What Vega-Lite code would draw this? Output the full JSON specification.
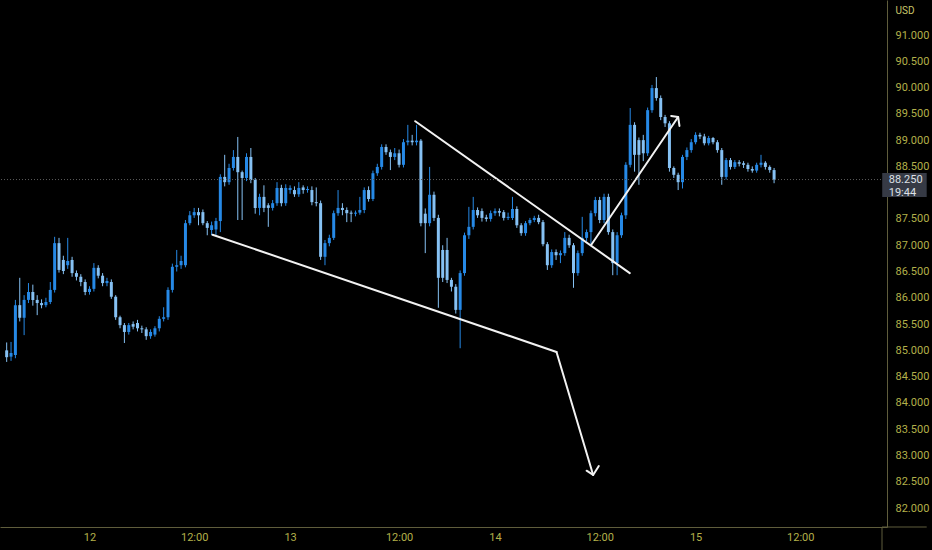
{
  "$schema": "https://vega.github.io/schema/vega-lite/v6.json",
  "description": "30 minute candles with hand drawn trend lines",
  "width": 887,
  "height": 527,
  "autosize": "none",
  "padding": {"left": 0, "top": 0, "right": 45, "bottom": 23},
  "background": "#000000",
  "config": {"view": {"stroke": null}},
  "datasets": {
    "candles": [
      {"i":0,"o":85.00,"h":85.15,"l":84.78,"c":84.87},
      {"i":1,"o":84.88,"h":85.16,"l":84.80,"c":84.95},
      {"i":2,"o":84.91,"h":85.96,"l":84.85,"c":85.86},
      {"i":3,"o":85.86,"h":86.38,"l":85.55,"c":85.62},
      {"i":4,"o":85.62,"h":86.05,"l":85.29,"c":85.96},
      {"i":5,"o":85.96,"h":86.28,"l":85.90,"c":86.11},
      {"i":6,"o":86.11,"h":86.25,"l":85.85,"c":85.96},
      {"i":7,"o":85.96,"h":86.05,"l":85.67,"c":85.90},
      {"i":8,"o":85.90,"h":85.97,"l":85.80,"c":85.86},
      {"i":9,"o":85.86,"h":86.00,"l":85.82,"c":85.92},
      {"i":10,"o":85.92,"h":86.30,"l":85.88,"c":86.15},
      {"i":11,"o":86.15,"h":87.16,"l":86.10,"c":87.04},
      {"i":12,"o":87.04,"h":87.14,"l":86.48,"c":86.53},
      {"i":13,"o":86.72,"h":86.80,"l":86.45,"c":86.51},
      {"i":14,"o":86.62,"h":87.14,"l":86.55,"c":86.70},
      {"i":15,"o":86.72,"h":86.78,"l":86.40,"c":86.47},
      {"i":16,"o":86.47,"h":86.52,"l":86.33,"c":86.40},
      {"i":17,"o":86.40,"h":86.45,"l":86.22,"c":86.30},
      {"i":18,"o":86.30,"h":86.35,"l":86.05,"c":86.11},
      {"i":19,"o":86.11,"h":86.22,"l":86.06,"c":86.17},
      {"i":20,"o":86.17,"h":86.66,"l":86.12,"c":86.57},
      {"i":21,"o":86.57,"h":86.62,"l":86.37,"c":86.42},
      {"i":22,"o":86.42,"h":86.47,"l":86.22,"c":86.28},
      {"i":23,"o":86.28,"h":86.38,"l":86.22,"c":86.32},
      {"i":24,"o":86.30,"h":86.35,"l":85.98,"c":86.02},
      {"i":25,"o":86.02,"h":86.05,"l":85.58,"c":85.63},
      {"i":26,"o":85.63,"h":85.66,"l":85.42,"c":85.48},
      {"i":27,"o":85.48,"h":85.52,"l":85.14,"c":85.35},
      {"i":28,"o":85.35,"h":85.52,"l":85.30,"c":85.48},
      {"i":29,"o":85.50,"h":85.55,"l":85.40,"c":85.45},
      {"i":30,"o":85.52,"h":85.58,"l":85.36,"c":85.42},
      {"i":31,"o":85.42,"h":85.47,"l":85.33,"c":85.40},
      {"i":32,"o":85.40,"h":85.44,"l":85.20,"c":85.27},
      {"i":33,"o":85.27,"h":85.40,"l":85.22,"c":85.35},
      {"i":34,"o":85.30,"h":85.46,"l":85.26,"c":85.42},
      {"i":35,"o":85.42,"h":85.65,"l":85.36,"c":85.60},
      {"i":36,"o":85.60,"h":85.82,"l":85.55,"c":85.63},
      {"i":37,"o":85.63,"h":86.20,"l":85.58,"c":86.15},
      {"i":38,"o":86.15,"h":86.65,"l":86.10,"c":86.59},
      {"i":39,"o":86.59,"h":86.91,"l":86.50,"c":86.62},
      {"i":40,"o":86.62,"h":86.80,"l":86.55,"c":86.70},
      {"i":41,"o":86.62,"h":87.48,"l":86.58,"c":87.42},
      {"i":42,"o":87.42,"h":87.65,"l":87.38,"c":87.57},
      {"i":43,"o":87.57,"h":87.71,"l":87.52,"c":87.63},
      {"i":44,"o":87.63,"h":87.71,"l":87.38,"c":87.57},
      {"i":45,"o":87.63,"h":87.68,"l":87.38,"c":87.42},
      {"i":46,"o":87.42,"h":87.46,"l":87.19,"c":87.33},
      {"i":47,"o":87.29,"h":87.45,"l":87.19,"c":87.38},
      {"i":48,"o":87.30,"h":87.52,"l":87.19,"c":87.46},
      {"i":49,"o":87.46,"h":88.35,"l":87.25,"c":88.30},
      {"i":50,"o":88.30,"h":88.72,"l":88.12,"c":88.20},
      {"i":51,"o":88.20,"h":88.55,"l":88.15,"c":88.47},
      {"i":52,"o":88.47,"h":88.81,"l":88.42,"c":88.68},
      {"i":53,"o":88.68,"h":89.06,"l":87.48,"c":88.39},
      {"i":54,"o":88.39,"h":88.42,"l":87.48,"c":88.28},
      {"i":55,"o":88.28,"h":88.75,"l":88.22,"c":88.68},
      {"i":56,"o":88.68,"h":88.85,"l":88.18,"c":88.24},
      {"i":57,"o":88.24,"h":88.28,"l":87.60,"c":87.71},
      {"i":58,"o":87.71,"h":87.98,"l":87.57,"c":87.92},
      {"i":59,"o":87.92,"h":88.14,"l":87.63,"c":87.71},
      {"i":60,"o":87.76,"h":87.80,"l":87.35,"c":87.71},
      {"i":61,"o":87.71,"h":87.86,"l":87.66,"c":87.80},
      {"i":62,"o":87.80,"h":88.20,"l":87.75,"c":88.09},
      {"i":63,"o":88.09,"h":88.15,"l":87.74,"c":87.80},
      {"i":64,"o":87.80,"h":88.16,"l":87.75,"c":88.09},
      {"i":65,"o":88.05,"h":88.14,"l":87.98,"c":88.09},
      {"i":66,"o":88.05,"h":88.12,"l":87.92,"c":87.97},
      {"i":67,"o":87.97,"h":88.20,"l":87.92,"c":88.09},
      {"i":68,"o":88.10,"h":88.14,"l":87.98,"c":88.05},
      {"i":69,"o":88.05,"h":88.12,"l":88.00,"c":88.07},
      {"i":70,"o":88.05,"h":88.12,"l":87.76,"c":87.82},
      {"i":71,"o":87.82,"h":88.10,"l":87.74,"c":87.80},
      {"i":72,"o":87.80,"h":87.85,"l":86.72,"c":86.78},
      {"i":73,"o":86.78,"h":87.10,"l":86.62,"c":87.04},
      {"i":74,"o":87.04,"h":87.20,"l":86.98,"c":87.14},
      {"i":75,"o":87.14,"h":87.66,"l":87.10,"c":87.61},
      {"i":76,"o":87.61,"h":88.05,"l":87.56,"c":87.71},
      {"i":77,"o":87.71,"h":87.80,"l":87.57,"c":87.67},
      {"i":78,"o":87.67,"h":87.72,"l":87.44,"c":87.61},
      {"i":79,"o":87.62,"h":87.66,"l":87.44,"c":87.60},
      {"i":80,"o":87.60,"h":87.66,"l":87.55,"c":87.62},
      {"i":81,"o":87.62,"h":87.92,"l":87.58,"c":87.67},
      {"i":82,"o":87.67,"h":88.10,"l":87.61,"c":88.05},
      {"i":83,"o":88.05,"h":88.12,"l":87.83,"c":87.88},
      {"i":84,"o":87.88,"h":88.42,"l":87.84,"c":88.37},
      {"i":85,"o":88.37,"h":88.55,"l":88.32,"c":88.49},
      {"i":86,"o":88.49,"h":88.92,"l":88.44,"c":88.87},
      {"i":87,"o":88.87,"h":88.92,"l":88.72,"c":88.77},
      {"i":88,"o":88.77,"h":88.82,"l":88.43,"c":88.68},
      {"i":89,"o":88.68,"h":88.85,"l":88.62,"c":88.75},
      {"i":90,"o":88.75,"h":88.82,"l":88.48,"c":88.53},
      {"i":91,"o":88.53,"h":89.02,"l":88.48,"c":88.96},
      {"i":92,"o":88.96,"h":89.29,"l":88.90,"c":88.99},
      {"i":93,"o":88.99,"h":89.10,"l":88.90,"c":88.96},
      {"i":94,"o":88.96,"h":89.29,"l":88.90,"c":88.99},
      {"i":95,"o":88.99,"h":89.02,"l":87.36,"c":87.42},
      {"i":96,"o":87.60,"h":87.70,"l":86.85,"c":87.42},
      {"i":97,"o":87.42,"h":88.49,"l":87.36,"c":87.96},
      {"i":98,"o":87.96,"h":88.02,"l":87.46,"c":87.52},
      {"i":99,"o":87.52,"h":87.58,"l":85.81,"c":86.38},
      {"i":100,"o":86.91,"h":87.00,"l":86.30,"c":86.38},
      {"i":101,"o":86.91,"h":87.14,"l":86.28,"c":86.34},
      {"i":102,"o":86.34,"h":86.38,"l":86.12,"c":86.21},
      {"i":103,"o":86.21,"h":86.26,"l":85.70,"c":85.77},
      {"i":104,"o":85.77,"h":86.52,"l":85.04,"c":86.47},
      {"i":105,"o":86.47,"h":87.24,"l":86.42,"c":87.19},
      {"i":106,"o":87.19,"h":87.73,"l":87.12,"c":87.35},
      {"i":107,"o":87.35,"h":87.92,"l":87.30,"c":87.67},
      {"i":108,"o":87.67,"h":87.72,"l":87.52,"c":87.57},
      {"i":109,"o":87.65,"h":87.70,"l":87.45,"c":87.52},
      {"i":110,"o":87.53,"h":87.58,"l":87.45,"c":87.50},
      {"i":111,"o":87.50,"h":87.66,"l":87.45,"c":87.61},
      {"i":112,"o":87.61,"h":87.70,"l":87.56,"c":87.65},
      {"i":113,"o":87.65,"h":87.70,"l":87.55,"c":87.62},
      {"i":114,"o":87.63,"h":87.67,"l":87.47,"c":87.52},
      {"i":115,"o":87.52,"h":87.62,"l":87.48,"c":87.54},
      {"i":116,"o":87.52,"h":87.92,"l":87.48,"c":87.69},
      {"i":117,"o":87.69,"h":87.74,"l":87.33,"c":87.38},
      {"i":118,"o":87.38,"h":87.42,"l":87.18,"c":87.23},
      {"i":119,"o":87.23,"h":87.46,"l":87.18,"c":87.42},
      {"i":120,"o":87.42,"h":87.52,"l":87.38,"c":87.48},
      {"i":121,"o":87.48,"h":87.56,"l":87.44,"c":87.52},
      {"i":122,"o":87.52,"h":87.58,"l":87.40,"c":87.44},
      {"i":123,"o":87.44,"h":87.48,"l":86.98,"c":87.02},
      {"i":124,"o":87.02,"h":87.06,"l":86.53,"c":86.62},
      {"i":125,"o":86.62,"h":86.92,"l":86.57,"c":86.87},
      {"i":126,"o":86.87,"h":86.92,"l":86.72,"c":86.81},
      {"i":127,"o":86.81,"h":86.90,"l":86.66,"c":86.85},
      {"i":128,"o":86.85,"h":87.25,"l":86.80,"c":87.14},
      {"i":129,"o":87.14,"h":87.20,"l":86.95,"c":87.00},
      {"i":130,"o":87.00,"h":87.04,"l":86.19,"c":86.47},
      {"i":131,"o":86.47,"h":86.90,"l":86.42,"c":86.85},
      {"i":132,"o":86.85,"h":87.54,"l":86.80,"c":87.14},
      {"i":133,"o":87.14,"h":87.30,"l":87.08,"c":87.25},
      {"i":134,"o":87.25,"h":87.66,"l":87.00,"c":87.61},
      {"i":135,"o":87.61,"h":87.92,"l":87.55,"c":87.86},
      {"i":136,"o":87.86,"h":87.92,"l":87.42,"c":87.48},
      {"i":137,"o":87.48,"h":87.98,"l":87.42,"c":87.92},
      {"i":138,"o":87.92,"h":87.98,"l":87.20,"c":87.25},
      {"i":139,"o":87.25,"h":87.30,"l":86.43,"c":86.66},
      {"i":140,"o":86.66,"h":87.25,"l":86.43,"c":87.19},
      {"i":141,"o":87.19,"h":87.62,"l":87.14,"c":87.57},
      {"i":142,"o":87.57,"h":88.58,"l":87.50,"c":88.53},
      {"i":143,"o":88.53,"h":89.61,"l":88.48,"c":89.29},
      {"i":144,"o":89.29,"h":89.34,"l":88.40,"c":88.72},
      {"i":145,"o":89.00,"h":89.05,"l":88.15,"c":88.72},
      {"i":146,"o":89.00,"h":89.10,"l":88.60,"c":88.75},
      {"i":147,"o":88.75,"h":89.62,"l":88.70,"c":89.57},
      {"i":148,"o":89.57,"h":90.05,"l":89.52,"c":89.99},
      {"i":149,"o":89.99,"h":90.20,"l":89.75,"c":89.80},
      {"i":150,"o":89.80,"h":89.85,"l":89.38,"c":89.44},
      {"i":151,"o":89.44,"h":89.48,"l":89.25,"c":89.32},
      {"i":152,"o":89.32,"h":89.36,"l":88.40,"c":88.47},
      {"i":153,"o":88.47,"h":88.50,"l":88.28,"c":88.34},
      {"i":154,"o":88.34,"h":88.38,"l":88.05,"c":88.20},
      {"i":155,"o":88.20,"h":88.72,"l":88.08,"c":88.68},
      {"i":156,"o":88.68,"h":88.86,"l":88.62,"c":88.81},
      {"i":157,"o":88.81,"h":89.02,"l":88.76,"c":88.96},
      {"i":158,"o":88.96,"h":89.15,"l":88.92,"c":89.10},
      {"i":159,"o":89.10,"h":89.14,"l":89.02,"c":89.07},
      {"i":160,"o":89.07,"h":89.12,"l":88.90,"c":88.94},
      {"i":161,"o":88.94,"h":89.08,"l":88.90,"c":89.04},
      {"i":162,"o":89.04,"h":89.06,"l":88.92,"c":88.96},
      {"i":163,"o":88.96,"h":89.00,"l":88.76,"c":88.81},
      {"i":164,"o":88.81,"h":88.85,"l":88.15,"c":88.30},
      {"i":165,"o":88.30,"h":88.66,"l":88.25,"c":88.62},
      {"i":166,"o":88.62,"h":88.66,"l":88.44,"c":88.49},
      {"i":167,"o":88.49,"h":88.62,"l":88.45,"c":88.58},
      {"i":168,"o":88.58,"h":88.62,"l":88.50,"c":88.55},
      {"i":169,"o":88.56,"h":88.60,"l":88.47,"c":88.53},
      {"i":170,"o":88.53,"h":88.57,"l":88.40,"c":88.45},
      {"i":171,"o":88.45,"h":88.50,"l":88.38,"c":88.42},
      {"i":172,"o":88.42,"h":88.57,"l":88.38,"c":88.53},
      {"i":173,"o":88.53,"h":88.72,"l":88.48,"c":88.57},
      {"i":174,"o":88.57,"h":88.60,"l":88.44,"c":88.49},
      {"i":175,"o":88.49,"h":88.52,"l":88.38,"c":88.43},
      {"i":176,"o":88.43,"h":88.47,"l":88.18,"c":88.25}
    ],
    "drawings": [
      {"g":"lower","i":47.2,"p":87.2},
      {"g":"lower","i":126.1,"p":84.97},
      {"g":"down","i":126.1,"p":84.97},
      {"g":"down","i":134.5,"p":82.63},
      {"g":"downhead","i":133.0,"p":82.71},
      {"g":"downhead","i":134.5,"p":82.63},
      {"g":"downhead","i":135.8,"p":82.80},
      {"g":"upper","i":93.7,"p":89.36},
      {"g":"upper","i":142.9,"p":86.47},
      {"g":"up","i":134.0,"p":87.0},
      {"g":"up","i":154.0,"p":89.44},
      {"g":"uphead","i":152.4,"p":89.46},
      {"g":"uphead","i":154.0,"p":89.44},
      {"g":"uphead","i":154.3,"p":89.27}
    ],
    "last": [
      {"price": 88.25, "label": "88.250\n19:44"}
    ]
  },
  "layer": [
    {
      "data": {"name": "candles"},
      "mark": {"type": "rule", "strokeWidth": 1},
      "encoding": {
        "x": {
          "field": "i",
          "type": "quantitative",
          "scale": {"domain": [-0.385, 200.75], "nice": false, "zero": false},
          "axis": {
            "values": [19, 43, 65, 90, 112, 136, 158, 182],
            "labelExpr": "datum.value == 19 ? '12' : datum.value == 65 ? '13' : datum.value == 112 ? '14' : datum.value == 158 ? '15' : '12:00'",
            "title": null,
            "grid": false,
            "ticks": false,
            "tickCount": 40,
            "labelOverlap": false,
            "labelFlush": false,
            "domainColor": "#5f5d3c",
            "labelColor": "#b3b04a",
            "labelFont": "Roboto",
            "labelFontSize": 11,
            "labelPadding": 4
          }
        },
        "y": {
          "field": "l",
          "type": "quantitative",
          "scale": {"domain": [81.639, 91.666], "nice": false, "zero": false},
          "axis": {
            "orient": "right",
            "values": [82, 82.5, 83, 83.5, 84, 84.5, 85, 85.5, 86, 86.5, 87, 87.5, 88.5, 89, 89.5, 90, 90.5, 91],
            "tickCount": 40,
            "format": ".3f",
            "title": "USD",
            "titleAngle": 0,
            "titleAlign": "left",
            "titleBaseline": "middle",
            "titleX": 8,
            "titleY": 10,
            "titleColor": "#c9c66a",
            "titleFont": "Roboto",
            "titleFontSize": 10,
            "titleFontWeight": "normal",
            "grid": false,
            "ticks": false,
            "labelOverlap": false,
            "labelFlush": false,
            "domainColor": "#5f5d3c",
            "labelColor": "#b3b04a",
            "labelFont": "Roboto",
            "labelFontSize": 11,
            "labelPadding": 8
          }
        },
        "y2": {"field": "h"},
        "color": {
          "condition": {"test": "datum.c >= datum.o", "value": "#2689e6"},
          "value": "#86c1f3"
        }
      }
    },
    {
      "data": {"name": "candles"},
      "mark": {"type": "bar", "size": 3},
      "encoding": {
        "x": {"field": "i", "type": "quantitative", "scale": {"domain": [-0.385, 200.75], "nice": false, "zero": false}},
        "y": {"field": "o", "type": "quantitative", "scale": {"domain": [81.639, 91.666], "nice": false, "zero": false}},
        "y2": {"field": "c"},
        "color": {
          "condition": {"test": "datum.c >= datum.o", "value": "#2689e6"},
          "value": "#86c1f3"
        }
      }
    },
    {
      "data": {"name": "drawings"},
      "mark": {"type": "line", "color": "#f2f2f2", "strokeWidth": 2, "strokeCap": "round", "strokeJoin": "round"},
      "encoding": {
        "x": {"field": "i", "type": "quantitative", "scale": {"domain": [-0.385, 200.75], "nice": false, "zero": false}},
        "y": {"field": "p", "type": "quantitative", "scale": {"domain": [81.639, 91.666], "nice": false, "zero": false}},
        "detail": {"field": "g"}
      }
    },
    {
      "data": {"name": "last"},
      "layer": [
        {
          "mark": {"type": "rule", "color": "#5a5a5a", "strokeDash": [1, 2], "strokeWidth": 1},
          "encoding": {
            "y": {"field": "price", "type": "quantitative", "scale": {"domain": [81.639, 91.666], "nice": false, "zero": false}}
          }
        },
        {
          "mark": {"type": "rule", "color": "#5f5d3c", "strokeWidth": 1},
          "encoding": {
            "x": {"datum": 200.75, "type": "quantitative", "scale": {"domain": [-0.385, 200.75], "nice": false, "zero": false}},
            "x2": {"datum": 211},
            "y": {"datum": 81.639, "type": "quantitative", "scale": {"domain": [81.639, 91.666], "nice": false, "zero": false}}
          }
        },
        {
          "mark": {"type": "rule", "color": "#5f5d3c", "strokeWidth": 1},
          "encoding": {
            "x": {"datum": 200.75, "type": "quantitative", "scale": {"domain": [-0.385, 200.75], "nice": false, "zero": false}},
            "y": {"datum": 81.639, "type": "quantitative", "scale": {"domain": [81.639, 91.666], "nice": false, "zero": false}},
            "y2": {"datum": 81.2}
          }
        },
        {
          "mark": {"type": "rect", "color": "#363a45"},
          "encoding": {
            "x": {"datum": 200.8, "type": "quantitative", "scale": {"domain": [-0.385, 200.75], "nice": false, "zero": false}},
            "x2": {"datum": 211},
            "y": {"datum": 88.375, "type": "quantitative", "scale": {"domain": [81.639, 91.666], "nice": false, "zero": false}},
            "y2": {"datum": 87.918}
          }
        },
        {
          "mark": {"type": "text", "align": "left", "baseline": "top", "dy": 1.5, "lineBreak": "\n", "lineHeight": 12.5, "font": "Roboto", "fontSize": 11, "color": "#dde0e6"},
          "encoding": {
            "x": {"datum": 202.3, "type": "quantitative", "scale": {"domain": [-0.385, 200.75], "nice": false, "zero": false}},
            "y": {"datum": 88.375, "type": "quantitative", "scale": {"domain": [81.639, 91.666], "nice": false, "zero": false}},
            "text": {"field": "label"}
          }
        }
      ]
    }
  ]
}
